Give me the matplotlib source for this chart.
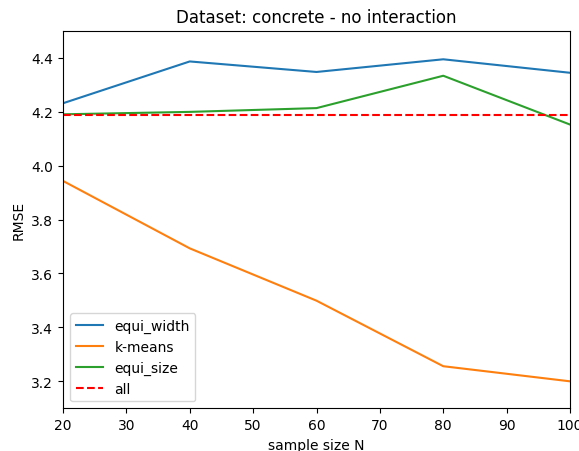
import matplotlib
matplotlib.use("Agg")
import matplotlib.pyplot as plt

sample_sizes = [20, 40, 60, 80, 100]
equi_width = [4.231, 4.386, 4.347, 4.394, 4.344]
k_means = [3.943, 3.693, 3.499, 3.256, 3.200]
equi_size = [4.190, 4.199, 4.213, 4.333, 4.152]
all_value = 4.186

fig = plt.figure(figsize=(5.79, 4.52), dpi=100)
ax = fig.add_axes([63/579, (452-409.3)/452, (570-63)/579, (409.3-31.7)/452])
ax.plot(sample_sizes, equi_width, label="equi_width")
ax.plot(sample_sizes, k_means, label="k-means")
ax.plot(sample_sizes, equi_size, label="equi_size")
ax.plot([sample_sizes[0], sample_sizes[-1]], [all_value, all_value], "r--", label="all")
ax.set_xlim(20, 100)
ax.set_ylim(3.1, 4.5)
ax.set_xlabel("sample size N")
ax.set_ylabel("RMSE")
ax.set_title("Dataset: concrete - no interaction")
ax.legend(loc="lower left")
fig.savefig("out.png", dpi=100)
